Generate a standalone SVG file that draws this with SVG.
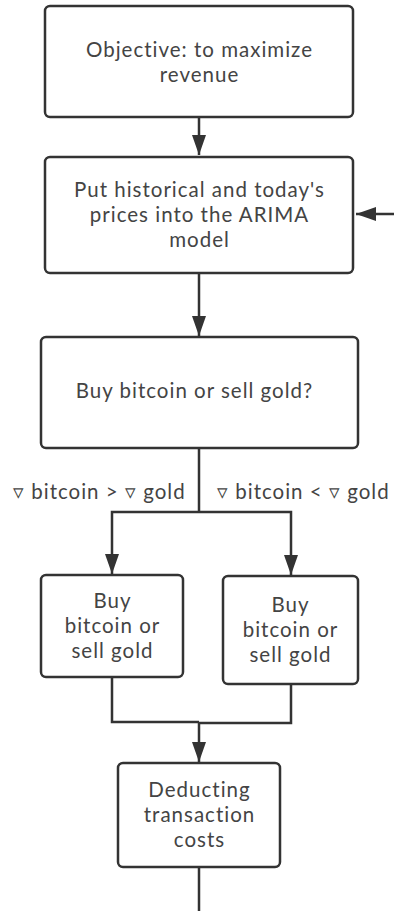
<svg xmlns="http://www.w3.org/2000/svg" width="394" height="911" viewBox="0 0 394 911">
<style>
.box{fill:#fff;stroke:#333;stroke-width:2.5}
.t{font-family:Lato,"Open Sans",sans-serif;font-size:20.5px;letter-spacing:1px;fill:#444;text-anchor:middle}
.l{font-family:Lato,"Open Sans",sans-serif;font-size:20.5px;letter-spacing:1px;fill:#444}
.c{fill:none;stroke:#333;stroke-width:2.5}
</style>
<defs>
<marker id="a" markerWidth="20" markerHeight="14" viewBox="0 0 20 14" refX="20" refY="7" orient="auto" markerUnits="userSpaceOnUse">
<path d="M0,0 L20,7 L0,14 Z" fill="#333"/>
</marker>
</defs>
<rect width="394" height="911" fill="#fff"/>
<g id="connectors">
<path class="c" d="M199,117 V155" marker-end="url(#a)"/>
<path class="c" d="M394,214 H356" marker-end="url(#a)"/>
<path class="c" d="M199,273 V336" marker-end="url(#a)"/>
<path class="c" d="M199,448 V512"/>
<path class="c" d="M199,512 H112 V574" marker-end="url(#a)"/>
<path class="c" d="M199,512 H291 V575" marker-end="url(#a)"/>
<path class="c" d="M112,677 V722 H199"/>
<path class="c" d="M291,684 V723 H199"/>
<path class="c" d="M199,722 V762" marker-end="url(#a)"/>
<path class="c" d="M199,867 V911"/>
<text class="l" x="13" y="499">▿ bitcoin &gt; ▿ gold</text>
<text class="l" x="217" y="499">▿ bitcoin &lt; ▿ gold</text>
</g>
<g id="n1">
<rect class="box" x="45" y="6" width="308" height="111" rx="5"/>
<text class="t" x="199.5" y="57">Objective: to maximize</text>
<text class="t" x="199.5" y="82">revenue</text>
</g>
<g id="n2">
<rect class="box" x="45" y="157" width="308" height="116" rx="5"/>
<text class="t" x="199.5" y="197">Put historical and today's</text>
<text class="t" x="199.5" y="222">prices into the ARIMA</text>
<text class="t" x="199.5" y="247">model</text>
</g>
<g id="n3">
<rect class="box" x="41" y="337" width="317" height="111" rx="5"/>
<text class="t" x="194.5" y="398">Buy bitcoin or sell gold?</text>
</g>
<g id="n4">
<rect class="box" x="41" y="575" width="142" height="102" rx="5"/>
<text class="t" x="112.5" y="608">Buy</text>
<text class="t" x="112.5" y="633">bitcoin or</text>
<text class="t" x="112.5" y="658">sell gold</text>
</g>
<g id="n5">
<rect class="box" x="223" y="576" width="135" height="108" rx="5"/>
<text class="t" x="290.5" y="612">Buy</text>
<text class="t" x="290.5" y="637">bitcoin or</text>
<text class="t" x="290.5" y="662">sell gold</text>
</g>
<g id="n6">
<rect class="box" x="118" y="763" width="162" height="104" rx="5"/>
<text class="t" x="199.5" y="797">Deducting</text>
<text class="t" x="199.5" y="822">transaction</text>
<text class="t" x="199.5" y="847">costs</text>
</g>
</svg>
